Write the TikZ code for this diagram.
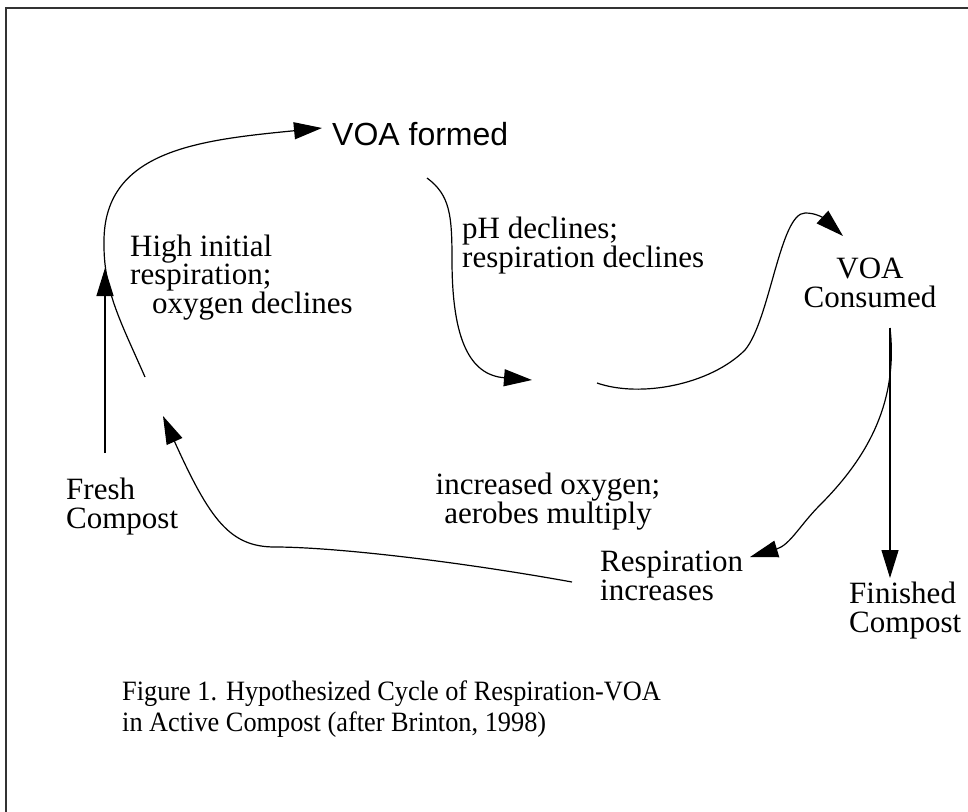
\documentclass[tikz,border=0pt]{standalone}
\usepackage{fontspec}
\setmainfont{Liberation Serif}
\newfontfamily\voasans{Liberation Sans}
\newfontfamily\figcaption[FakeStretch=0.94]{Liberation Serif}
\usepackage{tikz}
\usetikzlibrary{arrows.meta}

\begin{document}
\begin{tikzpicture}[x=1pt, y=-1pt,
        flow/.style={line width=1.2pt, -{Triangle[length=28pt, width=17pt]}},
        cyclelabel/.style={inner sep=0pt, anchor=base west, align=left, font=\fontsize{31}{28.5}\selectfont}]
        \clip (0,0) rectangle (968,811);
        \draw[line width=2pt, black!80] (6,8) rectangle (1000,900);

        % stage labels (placed at the baseline of their last line)
        \node[cyclelabel, font=\voasans\fontsize{32}{28.5}\selectfont] (formed) at (332,145) {VOA formed};
        \node[cyclelabel] (highresp) at (130,313) {High initial\\respiration;\\\hspace*{22pt}oxygen declines};
        \node[cyclelabel] (phdecl) at (462,267) {pH declines;\\respiration declines};
        \node[cyclelabel, anchor=base, align=center] (consumed) at (870,307) {VOA\\Consumed};
        \node[cyclelabel] (fresh) at (66,528) {Fresh\\Compost};
        \node[cyclelabel, anchor=base, align=center] (oxyinc) at (548,523) {increased oxygen;\\aerobes multiply};
        \node[cyclelabel] (respinc) at (600,600) {Respiration\\increases};
        \node[cyclelabel] (finished) at (849,632) {Finished\\Compost};
        \node[cyclelabel, font=\figcaption\fontsize{28}{30.5}\selectfont] (caption) at (122,731)
            {Figure 1. Hypothesized Cycle of Respiration-VOA\\in Active Compost (after Brinton, 1998)};

        % free ends of the connectors
        \coordinate (freshtop) at (105,453);
        \coordinate (freshtip) at (105,268);
        \coordinate (risestart) at (145,377);
        \coordinate (formedtip) at (322,128);
        \coordinate (fallstart) at (427,178);
        \coordinate (diptip) at (532,380);
        \coordinate (climbstart) at (597,383);
        \coordinate (consumedtip) at (843,236);
        \coordinate (branch) at (890,328);
        \coordinate (finishedtip) at (890,578);
        \coordinate (respinctip) at (750,557);
        \coordinate (returnstart) at (572,582);
        \coordinate (returntip) at (163,416);

        \draw[flow] (freshtop) -- (freshtip);
        \draw[flow] (risestart) .. controls (120,320) and (103,290) .. (104,240)
            .. controls (105,150) and (200,140) .. (formedtip);
        \draw[flow] (fallstart) .. controls (450,195) and (452,215) .. (452,260)
            .. controls (452,340) and (470,375) .. (diptip);
        \draw[flow] (climbstart) .. controls (640,398) and (710,385) .. (745,350)
            .. controls (770,320) and (780,213) .. (805,213)
            .. controls (822,213) and (830,224) .. (consumedtip);
        \draw[flow] (branch) .. controls (898,400) and (870,455) .. (820,505)
            .. controls (800,525) and (790,545) .. (respinctip);
        \draw[flow] (branch) -- (finishedtip);
        \draw[flow] (returnstart) .. controls (450,560) and (330,547) .. (275,547)
            .. controls (230,547) and (210,520) .. (returntip);
    \end{tikzpicture}
\end{document}
